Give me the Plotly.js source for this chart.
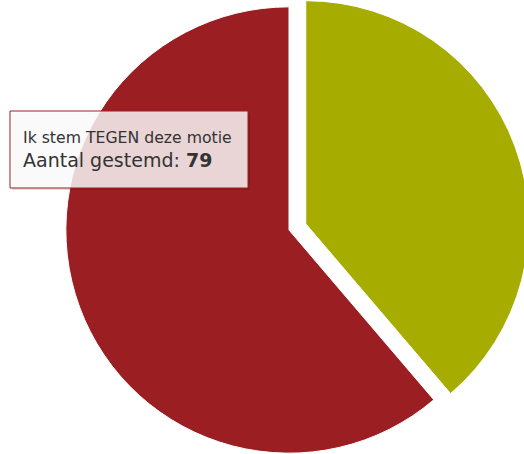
<!DOCTYPE html>
<html>
<head>
<meta charset="utf-8">
<script src="https://cdn.plot.ly/plotly-3.0.1.min.js"></script>
<style>
html,body{margin:0;padding:0;width:524px;height:454px;overflow:hidden;background:#fff;}
#chart{position:absolute;left:0;top:-11px;width:578px;height:482px;}
</style>
</head>
<body>
<div id="chart"></div>
<script>
// Data
const labels = ["Ik stem VOOR deze motie", "Ik stem TEGEN deze motie"];
const votes = [50, 79];
const sliceColors = ["#a6ad00", "#9b1e23"];
const pulls = [0.08, 0];
const tooltipTitle = "Ik stem TEGEN deze motie";
const tooltipLabel = "Aantal gestemd: ";
const tooltipValue = 79;

const W = 578, H = 482, OFF = 11;
const px = x => x / W;
const py = y => 1 - (y + OFF) / H;

const trace = {
  type: "pie",
  labels: labels,
  values: votes,
  sort: false,
  direction: "clockwise",
  rotation: 0,
  pull: pulls,
  marker: {colors: sliceColors, line: {color: "#ffffff", width: 1}},
  textinfo: "none",
  hoverinfo: "none",
  showlegend: false,
  domain: {x: [0, 1], y: [0, 1]}
};

const layout = {
  width: W, height: H,
  margin: {l: 0, r: 0, t: 0, b: 0},
  paper_bgcolor: "#ffffff",
  showlegend: false,
  shapes: [
    {type: "rect", xref: "paper", yref: "paper",
     x0: px(12), x1: px(250), y0: py(190), y1: py(113),
     fillcolor: "rgba(0,0,0,0.12)", line: {width: 0}, layer: "above"},
    {type: "rect", xref: "paper", yref: "paper",
     x0: px(10), x1: px(248), y0: py(188), y1: py(111),
     fillcolor: "rgba(255,255,255,0.82)", line: {color: "#9b1e23", width: 1}, layer: "above"}
  ],
  annotations: [
    {xref: "paper", yref: "paper", x: px(21), y: py(137), xanchor: "left", yanchor: "middle",
     text: tooltipTitle, showarrow: false,
     font: {family: "DejaVu Sans, Verdana, sans-serif", size: 15.7, color: "#333333"}},
    {xref: "paper", yref: "paper", x: px(21), y: py(160), xanchor: "left", yanchor: "middle",
     text: tooltipLabel + "<b>" + tooltipValue + "</b>", showarrow: false,
     font: {family: "DejaVu Sans, Verdana, sans-serif", size: 19, color: "#333333"}}
  ]
};

Plotly.newPlot("chart", [trace], layout, {displayModeBar: false, staticPlot: true});
</script>
</body>
</html>
